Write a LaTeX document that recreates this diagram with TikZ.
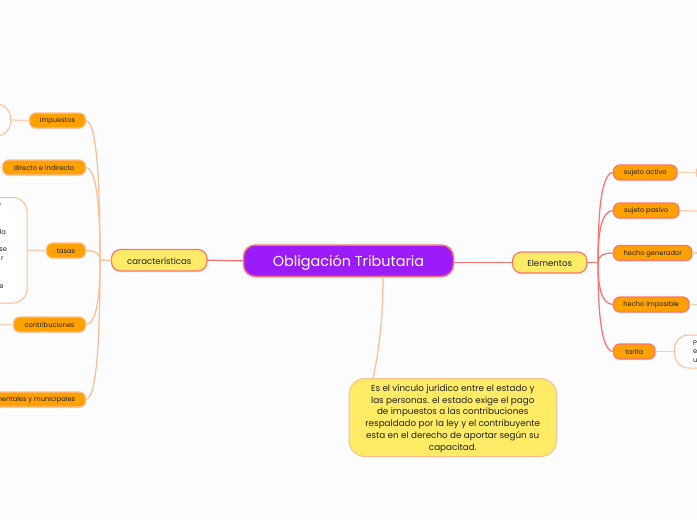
\documentclass[tikz,border=0pt]{standalone}
\usepackage{fontspec}
\setmainfont{Poppins}
\usetikzlibrary{shadows}
\definecolor{bgc}{HTML}{FDFDFD}
\definecolor{purp}{HTML}{9B1CF9}
\definecolor{yel}{HTML}{FFEB66}
\definecolor{org}{HTML}{FFA100}
\definecolor{redl}{HTML}{FF7272}
\definecolor{orl}{HTML}{FFBE94}
\definecolor{txt}{HTML}{222222}
\tikzset{
 every node/.style={inner sep=0pt,outer sep=0pt,align=center,text=txt},
 softsh/.style={drop shadow={opacity=.14,shadow xshift=0pt,shadow yshift=-1.2pt}},
 rootbox/.style={draw=redl,line width=1.5pt,fill=purp,rounded corners=12pt,text=white,font=\fontsize{14.4}{16}\selectfont,softsh},
 mainbox/.style={draw=redl,line width=1.1pt,fill=yel,rounded corners=9pt,font=\fontsize{8.6}{10}\selectfont,softsh},
 descbox/.style={draw=orl,line width=1pt,fill=yel,rounded corners=16pt,font=\fontsize{8.8}{11.7}\selectfont},
 leftbox/.style={draw=orl,line width=1.1pt,fill=org,rounded corners=6pt,font=\fontsize{6.7}{8}\selectfont,softsh},
 rightbox/.style={draw=redl,line width=1.1pt,fill=org,rounded corners=6pt,font=\fontsize{6.7}{8}\selectfont,softsh},
 leafbox/.style={draw=orl,line width=1pt,fill=white,rounded corners=14pt},
 frag/.style={font=\fontsize{6.7}{8}\selectfont,anchor=east},
 redline/.style={draw=redl,line width=1.25pt},
 orline/.style={draw=orl,line width=1.25pt},
 softline/.style={draw=orl!75,line width=1.25pt},
}
\newcommand{\boxat}[8][-.8pt]{\node[#2,minimum width=#5pt-#4pt,minimum height=#7pt-#6pt] (#3) at ({(#4+#5)/2},{(#6+#7)/2}) {\raisebox{#1}[\height][\depth]{#8}};}
\begin{document}
\begin{tikzpicture}[x=1pt,y=-1pt]
\useasboundingbox (0,0) rectangle (697,520);
\clip (0,0) rectangle (697,520);
\fill[bgc] (0,0) rectangle (697,520);
% root and main branches
\boxat[-1.6pt]{rootbox}{root}{243.5}{453.5}{245}{276.5}{Obligación Tributaria}
\boxat{mainbox}{car}{111.5}{207}{249.5}{271}{características}
\boxat{mainbox}{ele}{512.5}{587}{252}{273}{Elementos}
\boxat[-1pt]{descbox}{desc}{349}{556.5}{378.5}{456.5}{\parbox{205pt}{\centering Es el vínculo jurídico entre el estado y\\las personas. el estado exige el pago\\de impuestos a las contribuciones\\respaldado por la ley y el contribuyente\\esta en el derecho de aportar según su\\capacitad.}}
% left branch
\boxat{leftbox}{imp}{29.5}{85.5}{113}{128}{impuestos}
\boxat{leftbox}{dir}{2.5}{85.5}{160}{175}{directo e indirecto}
\boxat{leftbox}{tas}{46.5}{85.5}{243}{258}{tasas}
\boxat{leftbox}{con}{13.5}{85.5}{317}{332}{contribuciones}
\boxat{leftbox}{dep}{-42.5}{85.5}{392}{407}{departamentales y municipales}
\boxat{leafbox}{impl}{-40}{10.5}{104}{136}{}
\boxat{leafbox}{tasl}{-60}{27}{197.5}{303}{}
\coordinate (dirl) at (0,167.5);
\coordinate (conl) at (0,324.5);
\node[frag] (f1) at (1,205) {e};
\node[frag] (f2) at (6,232.5) {la};
\node[frag] (f3) at (7,250) {se};
\node[frag] (f4) at (3.5,259) {r};
\node[frag] (f5) at (3.5,287) {e};
% right branch
\boxat{rightbox}{act}{613.5}{677}{165}{180}{sujeto activo}
\boxat{rightbox}{pas}{613.5}{679}{203}{218}{sujeto pasivo}
\boxat{rightbox}{gen}{613.5}{692}{245.5}{260.5}{hecho generador}
\boxat{rightbox}{ims}{613.5}{689}{297}{312}{hecho imposible}
\boxat{rightbox}{tar}{613.5}{655}{344}{359}{tarifa}
\node[draw=orl,line width=1pt,fill=org,rounded corners=6pt,minimum width=30pt,minimum height=15pt,anchor=west] (actl) at (696.5,172.5) {};
\coordinate (pasl) at (697,211);
\coordinate (genl) at (697,253);
\coordinate (imsl) at (697,304.5);
\boxat{leafbox}{tarl}{674.5}{740}{335}{368}{}
\node[frag,anchor=west] (g1) at (693,343) {P};
\node[frag,anchor=west] (g2) at (693,352) {e};
\node[frag,anchor=west] (g3) at (693,361) {u};
% connectors
\coordinate (lt) at (100,260);
\coordinate (rt) at (598,262.5);
\path[redline] (root.west) -- (car.east);
\path[redline] (root.east |- ele.west) -- (ele.west);
\path[orline] (car.west) -- (lt);
\path[redline] (ele.east) -- (rt);
\path[orline] (root.south -| 383,0) .. controls (383,320) and (379,350) .. (desc.north -| 373,0);
\foreach \n/\yy in {imp/120.5,dir/167.5,tas/250.5,con/324.5,dep/399.5}{
  \path[orline] (\n.east) .. controls (97,\yy) and (100,{\yy+(260-\yy)*.45}) .. (lt);
}
\foreach \n/\yy in {act/172.5,pas/210.5,gen/253,ims/304.5,tar/351.5}{
  \path[redline] (\n.west) .. controls (601,\yy) and (598,{\yy+(262.5-\yy)*.45}) .. (rt);
}
\path[softline] (imp.west) -- (impl.east);
\path[softline] (dir.west) -- (dirl);
\path[softline] (tas.west) -- (tasl.east);
\path[softline] (con.west) -- (conl);
\path[softline] (act.east) -- (actl.west);
\path[softline] (pas.east) -- (pasl);
\path[softline] (gen.east) -- (genl);
\path[softline] (ims.east) -- (imsl);
\path[softline] (tar.east) -- (tarl.west);
\end{tikzpicture}
\end{document}
